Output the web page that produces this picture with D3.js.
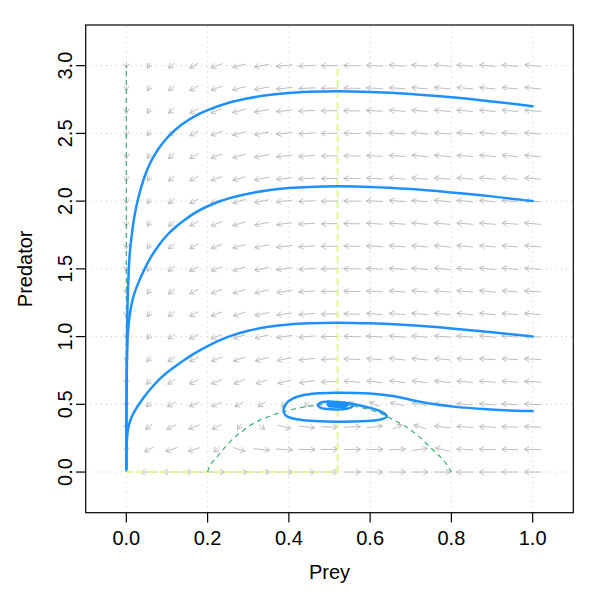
<!DOCTYPE html>
<html>
<head>
<meta charset="utf-8">
<script src="https://cdn.jsdelivr.net/npm/d3@7"></script>
<style>
  html, body { margin: 0; padding: 0; background: #ffffff; }
  svg text { font-family: "Liberation Sans", Arial, Helvetica, sans-serif; fill: #000; }
</style>
</head>
<body>
<svg id="chart" width="599" height="599"></svg>
<script>
// ---------- data ----------
const xTicks = [0.0, 0.2, 0.4, 0.6, 0.8, 1.0];
const yTicks = [0.0, 0.5, 1.0, 1.5, 2.0, 2.5, 3.0];
const xTickLabels = ["0.0", "0.2", "0.4", "0.6", "0.8", "1.0"];
const yTickLabels = ["0.0", "0.5", "1.0", "1.5", "2.0", "2.5", "3.0"];

// flow-field grid (19 x 19) and arrow directions (degrees, 0 = right, 90 = up, as seen on screen)
const fieldX = [0, 0.0556, 0.1111, 0.1667, 0.2222, 0.2778, 0.3333, 0.3889, 0.4444, 0.5,
                0.5556, 0.6111, 0.6667, 0.7222, 0.7778, 0.8333, 0.8889, 0.9444, 1.0];
const fieldY = [0, 0.1667, 0.3333, 0.5, 0.6667, 0.8333, 1.0, 1.1667, 1.3333, 1.5,
                1.6667, 1.8333, 2.0, 2.1667, 2.3333, 2.5, 2.6667, 2.8333, 3.0];
const fieldAngle = [
  [null,180,180,180,  0,  0,  0,  0,  0,  0,  0,  0,  0,  0,  0,180,180,180,180],
  [270, 206,198,198,221,342,354,357,359,  0,  1,  1,  3,  8,168,177,178,179,179],
  [270, 218,206,202,207,236,317,345,354,359,  2,  7, 27,162,173,176,177,178,178],
  [270, 225,210,204,204,208,213,220,231,270,147,159,167,171,174,175,176,177,177],
  [270, 229,213,205,202,202,199,195,189,182,176,173,172,173,174,175,176,176,177],
  [270, 232,215,206,202,199,195,191,186,182,178,175,174,174,174,175,176,176,177],
  [270, 234,216,207,201,198,194,189,185,181,178,176,175,174,175,175,175,176,176],
  [270, 236,217,207,201,197,192,188,184,181,178,176,175,175,175,175,175,176,176],
  [270, 237,218,207,201,196,192,188,184,181,179,177,175,175,175,175,175,175,176],
  [270, 238,218,207,201,196,191,187,184,181,179,177,176,175,175,175,175,175,176],
  [270, 238,219,208,201,195,191,187,184,181,179,177,176,175,175,175,175,175,175],
  [270, 239,219,208,200,195,191,187,183,181,179,177,176,175,175,175,175,175,175],
  [270, 239,220,208,200,195,190,187,183,181,179,177,176,175,175,175,175,175,175],
  [270, 240,220,208,200,195,190,186,183,181,179,177,176,175,175,175,175,175,175],
  [270, 240,220,208,200,195,190,186,183,181,179,177,176,175,175,175,175,175,175],
  [270, 241,220,208,200,194,190,186,183,181,179,177,176,175,175,175,174,175,175],
  [270, 241,221,208,200,194,190,186,183,181,179,177,176,175,175,175,174,175,175],
  [270, 241,221,208,200,194,190,186,183,181,179,177,176,175,175,175,174,174,175],
  [270, 241,221,208,200,194,190,186,183,181,179,177,176,175,175,175,174,174,174]
];

// prey nullcline (hump) and the straight nullclines
const preyNullX = [0.2, 0.205, 0.212, 0.222, 0.231, 0.245, 0.264, 0.285, 0.305, 0.325, 0.346, 0.38, 0.42,
                   0.46, 0.50, 0.54, 0.57, 0.60, 0.625, 0.645, 0.666, 0.685, 0.70, 0.725, 0.74, 0.755,
                   0.77, 0.78, 0.79, 0.8];
const preyNullY = [0, 0.045, 0.075, 0.107, 0.14, 0.19, 0.25, 0.30, 0.345, 0.378, 0.405, 0.44, 0.47,
                   0.49, 0.50, 0.495, 0.48, 0.46, 0.434, 0.405, 0.372, 0.34, 0.31, 0.25, 0.205, 0.163,
                   0.12, 0.09, 0.05, 0];
const preyAxisNullX = [0, 0];
const preyAxisNullY = [0, 3];
const predNullVX = [0.52, 0.52];
const predNullVY = [0, 3];
const predNullHX = [0, 0.52];
const predNullHY = [0, 0];

// trajectories
const trajAX = [1.0, 0.9, 0.8, 0.7, 0.6, 0.52, 0.45, 0.4, 0.35, 0.3, 0.25, 0.2, 0.17, 0.14, 0.12, 0.1,
                0.08, 0.06, 0.045, 0.03, 0.02, 0.013, 0.008, 0.005, 0.003, 0.0018, 0.001, 0.0005, 0.0002, 0];
const trajAY = [2.700, 2.736, 2.767, 2.791, 2.806, 2.811, 2.807, 2.798, 2.783, 2.759, 2.724, 2.671, 2.629,
                2.573, 2.525, 2.466, 2.390, 2.289, 2.182, 2.03, 1.89, 1.74, 1.60, 1.42, 1.24, 1.02, 0.78,
                0.52, 0.26, 0.02];
const trajBX = [1.0, 0.9, 0.8, 0.7, 0.6, 0.52, 0.45, 0.4, 0.35, 0.3, 0.25, 0.2, 0.17, 0.14, 0.12, 0.1,
                0.08, 0.06, 0.045, 0.03, 0.02, 0.013, 0.008, 0.005, 0.003, 0.0015, 0.0007, 0.0002, 0];
const trajBY = [2.0, 2.035, 2.064, 2.089, 2.105, 2.109, 2.105, 2.096, 2.080, 2.055, 2.018, 1.962, 1.915,
                1.853, 1.805, 1.748, 1.675, 1.585, 1.50, 1.40, 1.32, 1.24, 1.15, 1.07, 0.98, 0.82, 0.6,
                0.3, 0.02];
const trajCX = [1.0, 0.9, 0.8, 0.7, 0.6, 0.52, 0.45, 0.4, 0.35, 0.3, 0.25, 0.2, 0.17, 0.14, 0.12, 0.1,
                0.08, 0.06, 0.045, 0.03, 0.02, 0.013, 0.008, 0.005, 0.003, 0.0015, 0.0007, 0.0002, 0];
const trajCY = [1.0, 1.032, 1.06, 1.083, 1.098, 1.103, 1.099, 1.09, 1.072, 1.043, 0.998, 0.930, 0.880,
                0.822, 0.78, 0.735, 0.68, 0.615, 0.56, 0.495, 0.448, 0.405, 0.365, 0.33, 0.29, 0.24, 0.18,
                0.1, 0.02];
const trajDX = [1.0, 0.944, 0.888, 0.805, 0.76, 0.71, 0.66, 0.60, 0.518, 0.477,
                0.44, 0.412, 0.393, 0.387, 0.392, 0.41, 0.436, 0.475, 0.518, 0.56, 0.60, 0.628, 0.641, 0.636,
                0.62, 0.60, 0.576, 0.548, 0.518, 0.495,
                0.478, 0.471, 0.477, 0.495, 0.52, 0.542, 0.555, 0.556, 0.545, 0.525, 0.505,
                0.496, 0.498, 0.51, 0.527, 0.541, 0.543, 0.535, 0.52, 0.507,
                0.503, 0.507, 0.52, 0.534, 0.538, 0.532, 0.52, 0.51,
                0.508, 0.514, 0.525, 0.532, 0.53, 0.52, 0.512,
                0.513, 0.52, 0.528, 0.525, 0.518, 0.517, 0.522, 0.521];
const trajDY = [0.45, 0.454, 0.463, 0.483, 0.50, 0.527, 0.56, 0.580, 0.586, 0.582,
                0.57, 0.545, 0.505, 0.458, 0.418, 0.395, 0.383, 0.375, 0.372, 0.373, 0.378, 0.39, 0.408, 0.43,
                0.455, 0.474, 0.492, 0.508, 0.518, 0.52,
                0.513, 0.495, 0.476, 0.465, 0.462, 0.467, 0.48, 0.495, 0.508, 0.515, 0.513,
                0.503, 0.49, 0.483, 0.482, 0.488, 0.5, 0.51, 0.513, 0.509,
                0.5, 0.49, 0.486, 0.49, 0.499, 0.507, 0.509, 0.505,
                0.498, 0.491, 0.49, 0.496, 0.503, 0.506, 0.502,
                0.497, 0.493, 0.497, 0.502, 0.502, 0.498, 0.497, 0.5];

// ---------- drawing ----------
const svg = d3.select("#chart");
const x = d3.scaleLinear().domain([-0.1, 1.1]).range([85.7, 573.3]);
const y = d3.scaleLinear().domain([-0.3, 3.3]).range([512.7, 25]);

const clipId = "plotclip";
svg.append("defs").append("clipPath").attr("id", clipId)
  .append("rect").attr("x", 85.7).attr("y", 25).attr("width", 573.3 - 85.7).attr("height", 512.7 - 25);

// grid
const grid = svg.append("g");
grid.selectAll("line.gx").data(xTicks).join("line")
  .attr("x1", d => x(d)).attr("x2", d => x(d))
  .attr("y1", y.range()[0]).attr("y2", y.range()[1])
  .attr("stroke", "#d3d3d3").attr("stroke-width", 1).attr("stroke-dasharray", "1.3,3.7");
grid.selectAll("line.gy").data(yTicks).join("line")
  .attr("y1", d => y(d)).attr("y2", d => y(d))
  .attr("x1", x.range()[0]).attr("x2", x.range()[1])
  .attr("stroke", "#d3d3d3").attr("stroke-width", 1).attr("stroke-dasharray", "1.3,3.7");

// flow field arrows
const kx = x(1) - x(0), ky = y(0) - y(1);
const arrowLen = 0.041;   // in x data units (equal-length arrows)
const headLen = 5.5;
const arrows = svg.append("g").attr("stroke", "#bebebe").attr("stroke-width", 1).attr("fill", "none");
fieldY.forEach((yv, j) => {
  fieldX.forEach((xv, i) => {
    const a = fieldAngle[j][i];
    if (a === null) return;
    const t = a * Math.PI / 180;
    let dxd = Math.cos(t) / kx, dyd = Math.sin(t) / ky;
    const n = Math.hypot(dxd, dyd);
    dxd = dxd / n * arrowLen; dyd = dyd / n * arrowLen;
    const x0 = x(xv - dxd / 2), y0 = y(yv - dyd / 2);
    const x1 = x(xv + dxd / 2), y1 = y(yv + dyd / 2);
    const ang = Math.atan2(y1 - y0, x1 - x0);
    const h1 = ang + Math.PI - Math.PI / 6, h2 = ang + Math.PI + Math.PI / 6;
    arrows.append("path").attr("d",
      `M${x0},${y0}L${x1},${y1}M${x1 + headLen * Math.cos(h1)},${y1 + headLen * Math.sin(h1)}L${x1},${y1}L${x1 + headLen * Math.cos(h2)},${y1 + headLen * Math.sin(h2)}`);
  });
});

// nullclines
const toPts = (xs, ys) => xs.map((v, k) => [v, ys[k]]);
const lineLin = d3.line().x(d => x(d[0])).y(d => y(d[1]));
const lineSmooth = d3.line().x(d => x(d[0])).y(d => y(d[1])).curve(d3.curveCatmullRom.alpha(0.5));
const nullG = svg.append("g").attr("fill", "none");
nullG.append("path").attr("d", lineLin(toPts(predNullVX, predNullVY)))
  .attr("stroke", "#dcfa94").attr("stroke-width", 2).attr("stroke-dasharray", "7,4");
nullG.append("path").attr("d", lineLin(toPts(predNullHX, predNullHY)))
  .attr("stroke", "#dcfa94").attr("stroke-width", 2).attr("stroke-dasharray", "7,4");
nullG.append("path").attr("d", lineLin(toPts(preyAxisNullX, preyAxisNullY)))
  .attr("stroke", "#3cb371").attr("stroke-width", 1.2).attr("stroke-dasharray", "5,4");
nullG.append("path").attr("d", lineSmooth(toPts(preyNullX, preyNullY)))
  .attr("stroke", "#3cb371").attr("stroke-width", 1.2).attr("stroke-dasharray", "5,4");

// trajectories
const trajG = svg.append("g").attr("fill", "none").attr("clip-path", `url(#${clipId})`);
[[trajAX, trajAY], [trajBX, trajBY], [trajCX, trajCY], [trajDX, trajDY]].forEach(([xs, ys]) => {
  trajG.append("path").attr("d", lineSmooth(toPts(xs, ys)))
    .attr("stroke", "#1e90ff").attr("stroke-width", 2.5)
    .attr("stroke-linejoin", "round").attr("stroke-linecap", "round");
});

// box
svg.append("rect").attr("x", 85.7).attr("y", 25).attr("width", 573.3 - 85.7).attr("height", 512.7 - 25)
  .attr("fill", "none").attr("stroke", "#000").attr("stroke-width", 1.2);

// axes ticks and labels
const axG = svg.append("g");
axG.selectAll("line.tx").data(xTicks).join("line")
  .attr("x1", d => x(d)).attr("x2", d => x(d)).attr("y1", 512.7).attr("y2", 522.5)
  .attr("stroke", "#000").attr("stroke-width", 1.2);
axG.selectAll("text.tx").data(xTicks).join("text")
  .attr("x", d => x(d)).attr("y", 545).attr("text-anchor", "middle").attr("font-size", 20)
  .text((d, k) => xTickLabels[k]);
axG.selectAll("line.ty").data(yTicks).join("line")
  .attr("y1", d => y(d)).attr("y2", d => y(d)).attr("x1", 85.7).attr("x2", 75.9)
  .attr("stroke", "#000").attr("stroke-width", 1.2);
axG.selectAll("text.ty").data(yTicks).join("text")
  .attr("transform", d => `translate(72,${y(d)}) rotate(-90)`)
  .attr("text-anchor", "middle").attr("font-size", 20)
  .text((d, k) => yTickLabels[k]);

svg.append("text").attr("x", (85.7 + 573.3) / 2).attr("y", 579).attr("text-anchor", "middle")
  .attr("font-size", 20).text("Prey");
svg.append("text").attr("transform", `translate(32,${(25 + 512.7) / 2}) rotate(-90)`)
  .attr("text-anchor", "middle").attr("font-size", 20).text("Predator");
</script>
</body>
</html>
